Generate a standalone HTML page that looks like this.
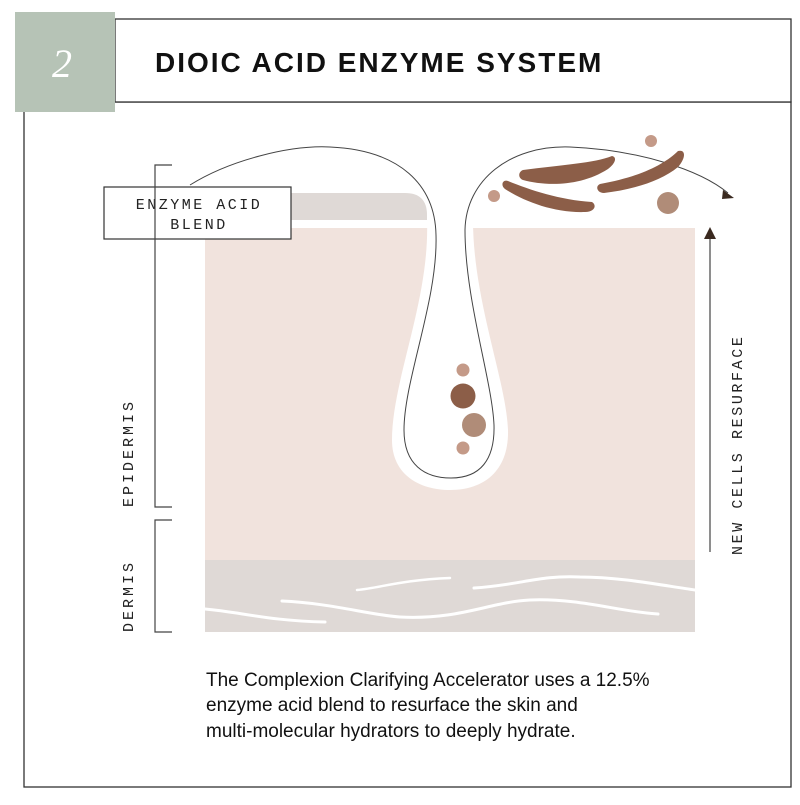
<!DOCTYPE html>
<html><head><style>
body{margin:0;background:#fff;width:800px;height:800px;overflow:hidden;font-family:"Liberation Sans",sans-serif}
</style></head><body>
<svg width="800" height="800" viewBox="0 0 800 800" xmlns="http://www.w3.org/2000/svg">
<rect x="24" y="102" width="767" height="685" fill="none" stroke="#333" stroke-width="1.3"/>
<rect x="115" y="19" width="676" height="83" fill="#fff" stroke="#333" stroke-width="1.3"/>
<rect x="15" y="12" width="100" height="100" fill="#b6c3b6"/>
<text x="62" y="77" font-family="Liberation Serif" font-style="italic" font-size="40" fill="#fff" text-anchor="middle">2</text>
<text x="155" y="72" font-size="28" font-weight="bold" letter-spacing="2" fill="#111">DIOIC ACID ENZYME SYSTEM</text>

<rect x="205" y="228" width="490" height="332" fill="#f1e3dd"/>
<rect x="205" y="560" width="490" height="72" fill="#dfd9d6"/>
<path d="M205 193 H405 Q427 193 427 215 V220 H205 Z" fill="#dfd9d6"/>
<path d="M427 220 C430 300 392 380 392 440 C392 475 420 490 450 490 C485 490 509 470 508 430 C506 380 473 300 473 220 Z" fill="#fff"/>
<g fill="none" stroke="#fff" stroke-linecap="round">
<path d="M357 590 C380 588 400 580 450 578" stroke-width="2.5"/>
<path d="M474 588 C520 585 540 575 580 577 C620 577 660 585 695 590" stroke-width="3"/>
<path d="M282 601 C330 603 370 615 400 617 C460 620 490 602 530 600 C580 598 620 612 658 614" stroke-width="3"/>
<path d="M205 609 C240 612 270 621 325 622" stroke-width="3"/>
</g>
<path d="M190 185 C230 160 290 145 330 147 C400 150 435 185 436 235 C438 300 404 380 404 430 C404 465 425 478 451 478 C480 478 495 460 494 425 C492 380 465 300 465 230 C466 180 510 145 570 147 C640 150 700 170 728 193" fill="none" stroke="#444" stroke-width="1"/>
<path d="M723 190 L734 198 L722 199 Z" fill="#3a2a20"/>
<circle cx="463" cy="370" r="6.5" fill="#c49a88"/>
<circle cx="463" cy="396" r="12.5" fill="#8c5e48"/>
<circle cx="474" cy="425" r="12" fill="#b08c78"/>
<circle cx="463" cy="448" r="6.5" fill="#c49a88"/>
<circle cx="651" cy="141" r="6" fill="#c49a88"/>
<circle cx="494" cy="196" r="6" fill="#c49a88"/>
<circle cx="668" cy="203" r="11" fill="#b08c78"/>
<g fill="#8c5e48">
<path d="M523 170 C560 165 595 163 612 156 C617 157 616 163 608 169 C580 187 545 186 523 180 C518 178 518 172 523 170 Z"/>
<path d="M508 181 C530 190 560 200 592 202 C597 205 595 212 585 212 C555 213 525 202 505 189 C500 185 503 179 508 181 Z"/>
<path d="M600 184 C640 177 665 164 678 151 C686 149 686 158 678 167 C660 182 630 190 604 193 C597 193 595 186 600 184 Z"/>
</g>
<rect x="104" y="187" width="187" height="52" fill="#fff" stroke="#333" stroke-width="1.2"/>
<text font-family="Liberation Mono" font-size="15" letter-spacing="2.5" fill="#222" text-anchor="middle"><tspan x="199" y="209">ENZYME ACID</tspan><tspan x="199" y="229">BLEND</tspan></text>
<g fill="none" stroke="#444" stroke-width="1.2">
<path d="M172 165 H155 V507 H172"/>
<path d="M172 520 H155 V632 H172"/>
<path d="M710 552 V236"/>
</g>
<path d="M704 239 L710 227 L716 239 Z" fill="#3a2a20"/>
<text transform="translate(133 507) rotate(-90)" font-family="Liberation Mono" font-size="15" letter-spacing="3" fill="#222">EPIDERMIS</text>
<text transform="translate(133 632) rotate(-90)" font-family="Liberation Mono" font-size="15" letter-spacing="3" fill="#222">DERMIS</text>
<text transform="translate(742 555) rotate(-90)" font-family="Liberation Mono" font-size="15" letter-spacing="2.6" fill="#222">NEW CELLS RESURFACE</text>
<g font-size="19" fill="#111">
<text x="206" y="686">The Complexion Clarifying Accelerator uses a 12.5%</text>
<text x="206" y="711">enzyme acid blend to resurface the skin and</text>
<text x="206" y="737">multi-molecular hydrators to deeply hydrate.</text>
</g>
</svg>
</body></html>
